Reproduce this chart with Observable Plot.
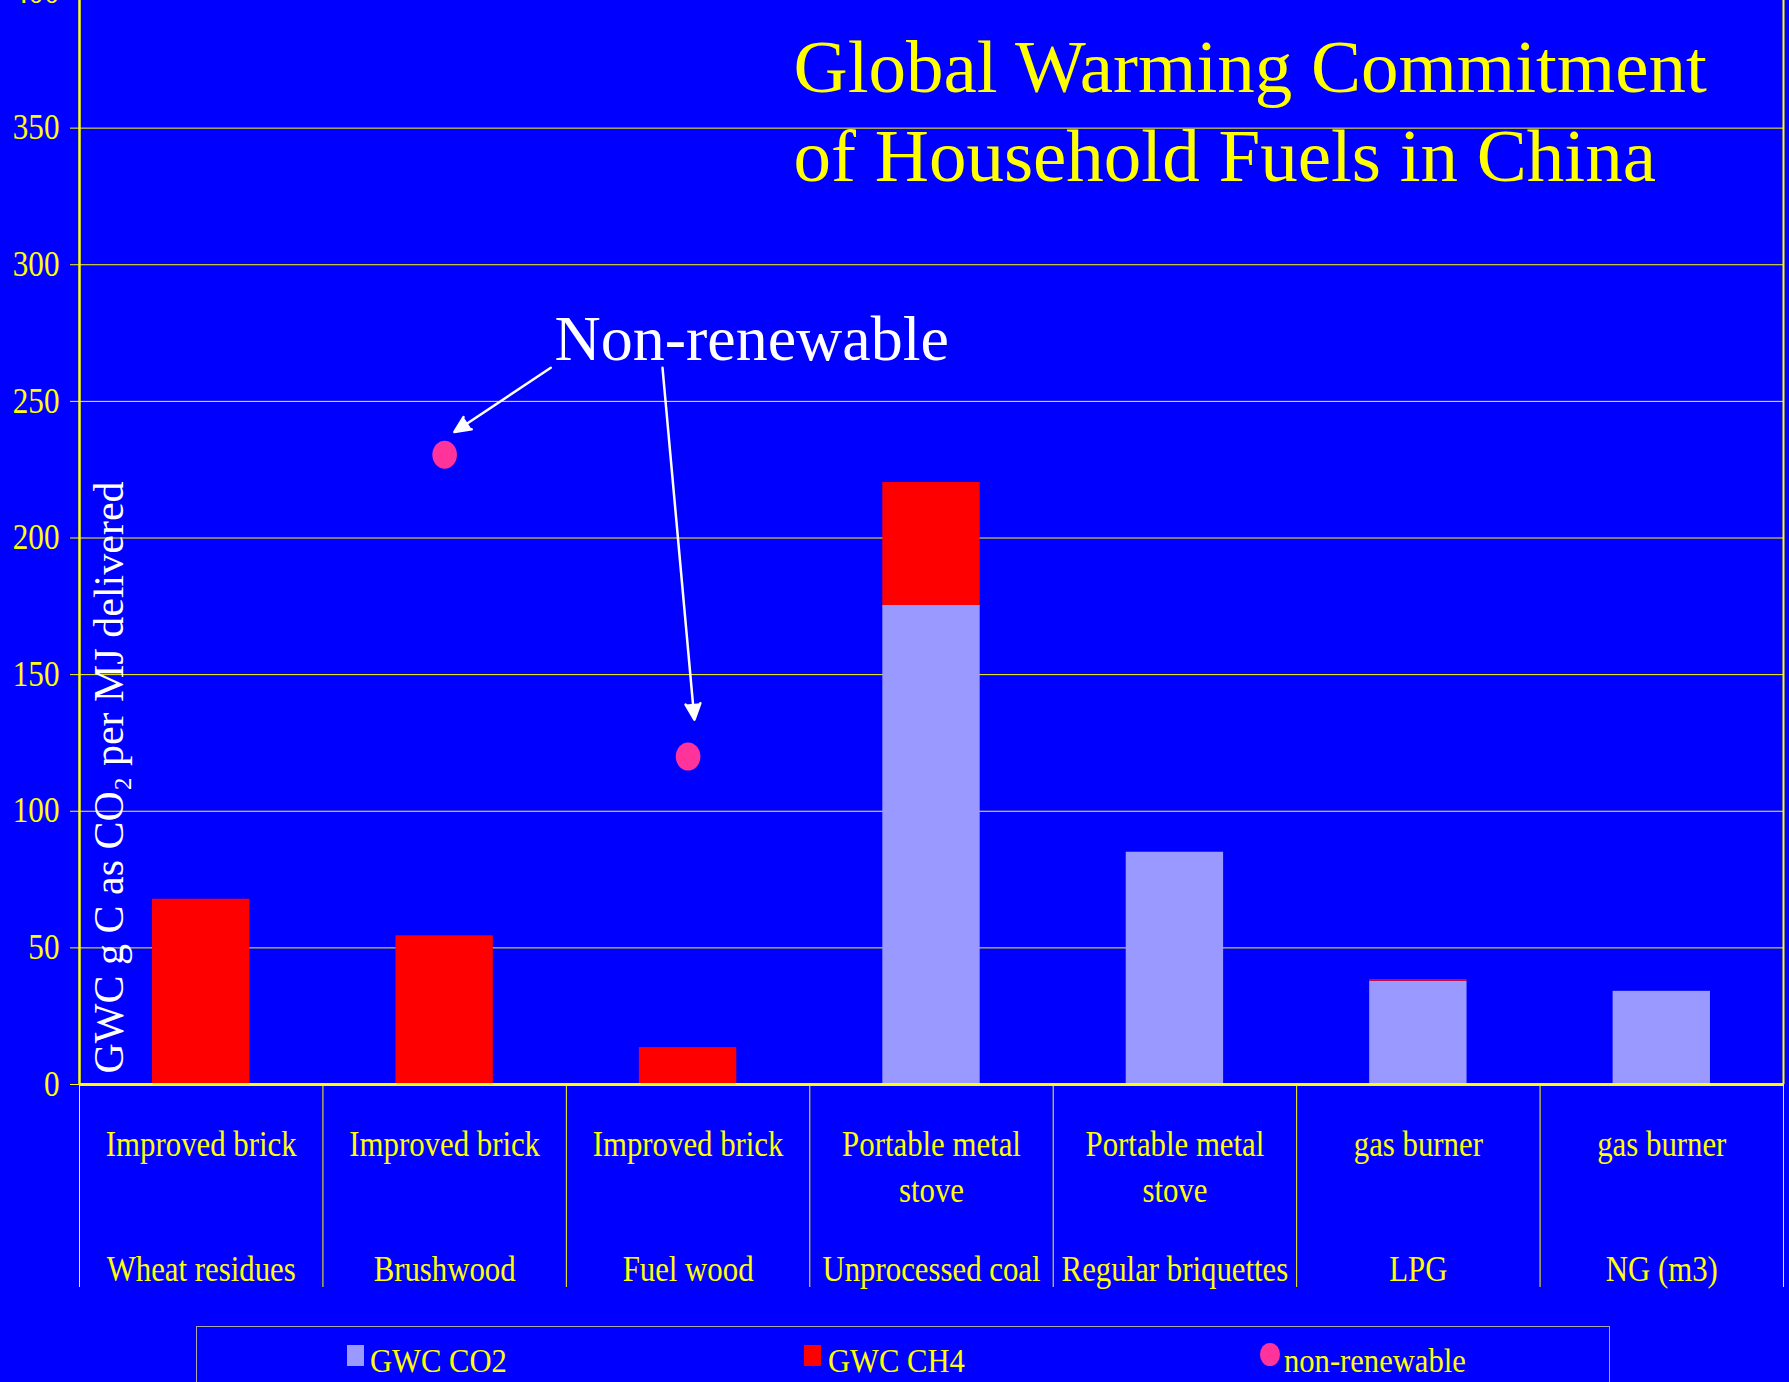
<!DOCTYPE html>
<html>
<head>
<meta charset="utf-8">
<script src="https://cdn.jsdelivr.net/npm/d3@7"></script>
<script src="https://cdn.jsdelivr.net/npm/@observablehq/plot@0.6"></script>
<style>
  html, body { margin: 0; padding: 0; background: #0000FF; width: 1789px; height: 1382px; overflow: hidden;
    font-family: "Liberation Serif", "Times New Roman", serif; }
  #chart { position: absolute; left: 0; top: -40px; }
  #legend-box { position: absolute; left: 196px; top: 1326px; width: 1414px; height: 120px;
    border: 1.5px solid #a8a8a8; box-sizing: border-box; }
  .sw { position: absolute; }
  .lt { position: absolute; color: #FFFF00; font-size: 34px; line-height: 34px; white-space: nowrap;
    transform-origin: 0 0; transform: scaleX(0.9); }
</style>
</head>
<body>
<div id="chart"></div>
<div id="legend-box"></div>
<div id="legend"></div>
<script>
// ---------------- data ----------------
const stoves = ["Improved brick", "Improved brick", "Improved brick", "Portable metal\nstove", "Portable metal\nstove", "gas burner", "gas burner"];
const fuels = ["Wheat residues", "Brushwood", "Fuel wood", "Unprocessed coal", "Regular briquettes", "LPG", "NG (m3)"];
const co2 = [0, 0, 0, 175.3, 85, 37.8, 34.1];
const ch4 = [67.8, 54.4, 13.5, 45, 0, 0.6, 0];
const nonRenewable = [null, 230.5, 120, null, null, null, null];
const yTicks = [0, 50, 100, 150, 200, 250, 300, 350, 400];
const seriesNames = ["GWC CO2", "GWC CH4", "non-renewable"];
const seriesColors = ["#9999FF", "#FF0000", "#FF3399"];
const titleLines = ["Global Warming Commitment", "of Household Fuels in China"];
const yLabel = "GWC g C as CO\u2082 per MJ delivered";
const annotation = {label: "Non-renewable", x: 1.951, y: 265.2};
const annotationArrows = [
  {x1: 1.936, y1: 262.3, x2: 1.540, y2: 238.8},
  {x1: 2.395, y1: 262.3, x2: 2.526, y2: 133.5}
];

// ---------------- derived tables ----------------
const idx = d3.range(stoves.length);
const stacked = idx.flatMap(i => [
  {i, series: seriesNames[0], value: co2[i]},
  {i, series: seriesNames[1], value: ch4[i]}
]);
const dots = idx.filter(i => nonRenewable[i] != null).map(i => ({i, value: nonRenewable[i], series: seriesNames[2]}));

const YELLOW = "#FFFF00";
const ellipse = {
  draw(ctx, size) {
    const ry = Math.sqrt(size / Math.PI), rx = ry * 0.88, k = 0.5523;
    ctx.moveTo(rx, 0);
    ctx.bezierCurveTo(rx, k * ry, k * rx, ry, 0, ry);
    ctx.bezierCurveTo(-k * rx, ry, -rx, k * ry, -rx, 0);
    ctx.bezierCurveTo(-rx, -k * ry, -k * rx, -ry, 0, -ry);
    ctx.bezierCurveTo(k * rx, -ry, rx, -k * ry, rx, 0);
    ctx.closePath();
  }
};

const plot = Plot.plot({
  width: 1789,
  height: 1340,
  marginLeft: 79,
  marginRight: 6,
  marginTop: 31,
  marginBottom: 216,
  style: {background: "#0000FF", color: YELLOW, fontFamily: "'Liberation Serif','Times New Roman',serif", overflow: "visible"},
  x: {domain: [0, stoves.length]},
  y: {domain: [0, 400]},
  color: {domain: seriesNames, range: seriesColors},
  marks: [
    Plot.gridY(yTicks, {stroke: YELLOW, strokeOpacity: 1, strokeWidth: 1}),
    Plot.axisY(yTicks, {tickSize: 9, tickPadding: 11, fontSize: 35, stroke: YELLOW, fill: YELLOW, label: null,
      ariaDescription: "ytick-labels"}),
    Plot.axisX(d3.range(stoves.length + 1), {tickSize: 203, tickFormat: () => "", stroke: YELLOW, label: null}),
    Plot.rectY(stacked, {x1: d => d.i + 0.3, x2: d => d.i + 0.7, y: "value", fill: "series"}),
    Plot.ruleY([0], {stroke: YELLOW, strokeWidth: 3}),
    Plot.ruleX([0], {stroke: YELLOW, strokeWidth: 2.5}),
    Plot.ruleX([stoves.length], {stroke: YELLOW, strokeWidth: 2}),
    Plot.dot(dots, {x: d => d.i + 0.5, y: "value", fill: "series", r: 14, symbol: ellipse, stroke: null}),
    Plot.arrow(annotationArrows, {x1: "x1", y1: "y1", x2: "x2", y2: "y2", stroke: "white", fill: "white",
      strokeWidth: 2.5, headLength: 10.5, headAngle: 50, strokeLinejoin: "miter"}),
    Plot.text([annotation], {x: "x", y: "y", text: "label", textAnchor: "start", lineAnchor: "bottom",
      fontSize: 64, fill: "white"}),
    // category labels
    Plot.text(idx, {x: i => i + 0.5, frameAnchor: "bottom", text: i => stoves[i], dy: 38, lineAnchor: "top",
      lineHeight: 1.334, fontSize: 35, fill: YELLOW, ariaDescription: "stove-labels"}),
    Plot.text(idx, {x: i => i + 0.5, frameAnchor: "bottom", text: i => fuels[i], dy: 196, lineAnchor: "bottom",
      fontSize: 35, fill: YELLOW, ariaDescription: "fuel-labels"}),
    // y-axis title
    Plot.text([yLabel], {frameAnchor: "bottom-left", rotate: -90, textAnchor: "start", lineAnchor: "bottom",
      dx: 43, dy: -11, fontSize: 42, fill: "white"}),
    // title
    Plot.text([titleLines.join("\n")], {frameAnchor: "top-left", textAnchor: "start", lineAnchor: "bottom",
      lineHeight: 1.177, dx: 714, dy: 189, fontSize: 75, fill: YELLOW})
  ]
});

document.getElementById("chart").appendChild(plot);

function condense(selector, f) {
  plot.querySelectorAll(selector).forEach(t => {
    const parts = t.querySelectorAll("tspan");
    const targets = parts.length ? Array.from(parts) : [t];
    targets.forEach(el => {
      const L = el.getComputedTextLength();
      if (L > 0) {
        el.setAttribute("textLength", (L * f).toFixed(2));
        el.setAttribute("lengthAdjust", "spacingAndGlyphs");
      }
    });
  });
}
condense('g[aria-description="stove-labels"] text', 0.88);
condense('g[aria-description="fuel-labels"] text', 0.88);
condense('g[aria-label="y-axis tick label"] text', 0.89);

// ---------------- legend ----------------
const legendLayout = [
  {sw: {left: 347, top: 1345, w: 17, h: 21, radius: "0"}, text: 370},
  {sw: {left: 804, top: 1345, w: 17, h: 21, radius: "0"}, text: 828},
  {sw: {left: 1260, top: 1343, w: 19.5, h: 23, radius: "50%"}, text: 1284}
];
const legend = d3.select("#legend");
seriesNames.forEach((name, k) => {
  const L = legendLayout[k];
  legend.append("div").attr("class", "sw")
    .style("left", L.sw.left + "px").style("top", L.sw.top + "px")
    .style("width", L.sw.w + "px").style("height", L.sw.h + "px")
    .style("border-radius", L.sw.radius).style("background", seriesColors[k]);
  legend.append("div").attr("class", "lt")
    .style("left", L.text + "px").style("top", "1344px").text(name);
});
</script>
</body>
</html>
